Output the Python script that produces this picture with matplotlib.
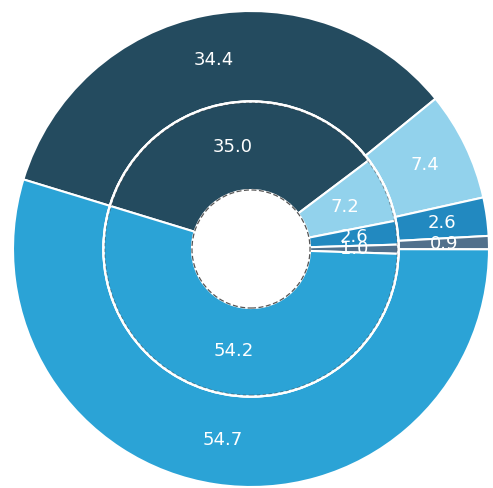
import matplotlib
matplotlib.use("Agg")
import matplotlib.pyplot as plt
import matplotlib.patches as mpatches

# ring values (outer ring and inner ring), same category order
outer_values = [34.4, 7.4, 2.6, 0.9, 54.7]
inner_values = [35.0, 7.2, 2.6, 1.0, 54.2]
colors = ['#244b5f', '#92d2ec', '#2289c0', '#51708c', '#2ba3d6']

r_outer = 1.0
r_mid = 0.62
r_hole = 0.248
start = 163

fig = plt.figure(figsize=(4.93, 4.88), dpi=100)
axe = fig.add_axes([0, 0, 1, 1])

edge = dict(edgecolor='white', linewidth=1.5)
txt = dict(color='white', fontsize=13)

axe.pie(outer_values, radius=r_outer, colors=colors, startangle=start, counterclock=False,
        autopct='%.1f', pctdistance=(r_outer + r_mid) / 2 / r_outer,
        wedgeprops=dict(width=r_outer - r_mid, **edge), textprops=txt)

axe.pie(inner_values, radius=r_mid, colors=colors, startangle=start, counterclock=False,
        autopct='%.1f', pctdistance=(r_mid + r_hole) / 2 / r_mid,
        wedgeprops=dict(width=r_mid - r_hole, **edge), textprops=txt)

# ring separator and hole outline
axe.add_patch(mpatches.Circle((0, 0), r_mid, fill=False, edgecolor='white', linewidth=1.8, zorder=3))
axe.add_patch(mpatches.Circle((0, 0), r_mid - 0.006, fill=False, edgecolor='#333333',
                              linewidth=0.6, linestyle=(0, (4, 3)), alpha=0.5, zorder=3))
axe.add_patch(mpatches.Circle((0, 0), r_hole, facecolor='white', edgecolor='#555555',
                              linewidth=0.9, linestyle=(0, (4, 2)), zorder=3))

# place the centre at pixel (251, 249) with outer radius of 238 px
px = 238.0
axe.set_xlim(-251 / px, (493 - 251) / px)
axe.set_ylim(-(488 - 249) / px, 249 / px)
axe.set_aspect('equal')
axe.axis('off')

fig.savefig('out.png', dpi=100)
